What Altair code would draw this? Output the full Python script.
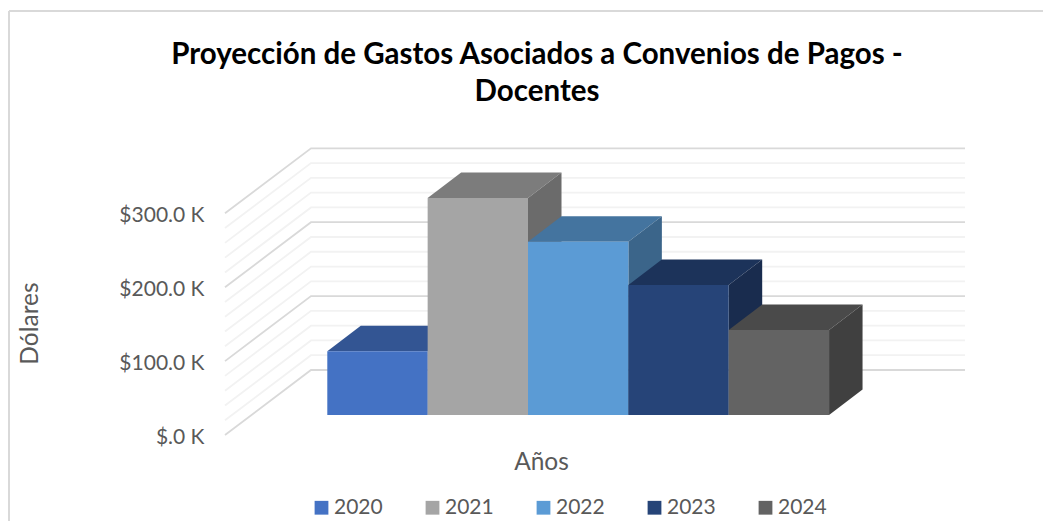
import altair as alt
import pandas as pd

years = ["2020", "2021", "2022", "2023", "2024"]
values = [86200, 293600, 234500, 175900, 115000]
front_colors = ["#4472c4", "#a5a5a5", "#5b9bd5", "#264478", "#636363"]
top_colors = ["#335593", "#7c7c7c", "#44749f", "#1c335a", "#4a4a4a"]
side_colors = ["#2c4a7f", "#6b6b6b", "#3b658a", "#192c4e", "#404040"]
tick_values = [0, 100000, 200000, 300000]
minor_step = 20000
title_lines = ["Proyección de Gastos Asociados a Convenios de Pagos -", "Docentes"]

FONT = "Lato"
TEXT = "#595959"
W, H = 740, 287
U = 100000 / 73.9            # dollars per pixel
wall_dx, wall_dy = 86, 65 * U
bar_dx, bar_dy = 33.5, 25.5 * U
floor = 20 * U
bar_start, bar_w = 102.3, 100.35

sx = alt.Scale(domain=[0, W], nice=False, zero=False)
sy = alt.Scale(domain=[0, H * U], nice=False, zero=False)

xaxis = alt.Axis(title="Años", labels=False, ticks=False, domain=False, grid=False,
                 titleFont=FONT, titleFontSize=24.5, titleColor=TEXT, titleFontWeight="normal",
                 titleX=316, titleY=27, titleBaseline="middle", titleAlign="center")
yaxis = alt.Axis(title="Dólares", values=tick_values, ticks=False, domain=False, grid=False,
                 labelExpr="datum.value == 0 ? '$.0 K' : '$' + format(datum.value / 1000, '.1f') + ' K'",
                 labelFont=FONT, labelFontSize=21, labelColor=TEXT, labelPadding=21, labelOffset=2.5,
                 titleFont=FONT, titleFontSize=24.5, titleColor=TEXT, titleFontWeight="normal",
                 titleX=-195, titleY=175, titleAlign="center", titleBaseline="middle")

# wall gridlines
rows = []
n_levels = tick_values[-1] // minor_step + 1
for i in range(n_levels):
    v = i * minor_step
    major = v % 100000 == 0
    for px, dy in [(0, 0), (wall_dx, wall_dy), (W, wall_dy)]:
        rows.append({"x": px, "y": v + dy, "level": v, "major": major})
grid = pd.DataFrame(rows)


def grid_layer(df, color):
    return alt.Chart(df).mark_line(color=color, strokeWidth=1.8, clip=False).encode(
        x=alt.X("x:Q", scale=sx, axis=xaxis),
        y=alt.Y("y:Q", scale=sy, axis=yaxis, stack=None),
        detail="level:N",
        order=alt.Order("x:Q"),
    )


layers = [grid_layer(grid[~grid.major], "#f2f2f2"), grid_layer(grid[grid.major], "#d9d9d9")]

color_scale = alt.Scale(domain=years, range=front_colors)
legend = alt.Legend(title=None, orient="none", legendX=86, legendY=349, direction="horizontal",
                    columns=5, symbolType="square", symbolSize=190, symbolStrokeWidth=0,
                    labelFont=FONT, labelFontSize=21, labelColor=TEXT, labelOffset=2,
                    columnPadding=39)

for i, (yr, val) in enumerate(zip(years, values)):
    x0 = bar_start + i * bar_w
    x1 = x0 + bar_w
    top = floor + val
    # top face
    tdf = pd.DataFrame({"x": [x0, x0 + bar_dx], "x2": [x1, x1 + bar_dx], "y": [top, top + bar_dy]})
    layers.append(alt.Chart(tdf).mark_area(orient="horizontal", color=top_colors[i]).encode(
        x=alt.X("x:Q", scale=sx, axis=xaxis, stack=None), x2="x2:Q",
        y=alt.Y("y:Q", scale=sy, axis=yaxis)))
    # side face
    sdf = pd.DataFrame({"x": [x1, x1 + bar_dx], "y": [floor, floor + bar_dy], "y2": [top, top + bar_dy]})
    layers.append(alt.Chart(sdf).mark_area(orient="vertical", color=side_colors[i]).encode(
        x=alt.X("x:Q", scale=sx, axis=xaxis),
        y=alt.Y("y:Q", scale=sy, axis=yaxis, stack=None), y2="y2:Q"))
    # front face
    fdf = pd.DataFrame({"x": [x0], "x2": [x1], "y": [floor], "y2": [top], "year": [yr]})
    layers.append(alt.Chart(fdf).mark_rect().encode(
        x=alt.X("x:Q", scale=sx, axis=xaxis), x2="x2:Q",
        y=alt.Y("y:Q", scale=sy, axis=yaxis), y2="y2:Q",
        color=alt.Color("year:N", scale=color_scale, legend=legend)))

# chart frame
one = pd.DataFrame({"a": [0]})
layers.append(alt.Chart(one).mark_rule(color="#d9d9d9", strokeWidth=2, clip=False).encode(
    x=alt.value(-216), x2=alt.value(818), y=alt.value(-137)))
layers.append(alt.Chart(one).mark_rule(color="#d9d9d9", strokeWidth=2, clip=False).encode(
    x=alt.value(-216), y=alt.value(-137), y2=alt.value(373)))

chart = alt.layer(*layers).properties(
    width=W, height=H,
    autosize=alt.AutoSizeParams(type="none"),
    padding={"left": 217, "top": 140, "right": 78, "bottom": 86},
    title=alt.TitleParams(text=title_lines, anchor="middle", font=FONT, fontSize=29.5,
                          fontWeight="bold", color="#000000", lineHeight=37, frame="group",
                          dx=-58, offset=0, dy=97.5),
).configure_view(stroke=None)

chart.save("out.html", embed_options={"renderer": "svg", "actions": False})
